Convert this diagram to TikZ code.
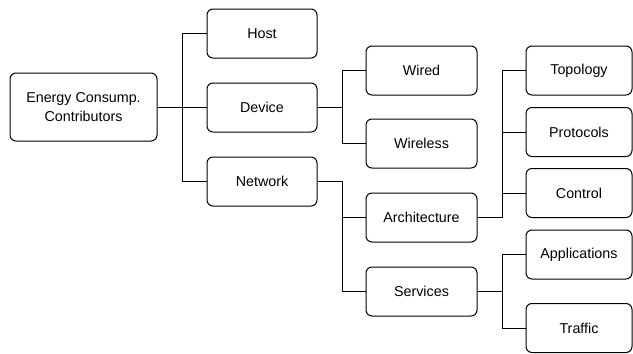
\documentclass[tikz,border=0pt]{standalone}
\usepackage{fontspec}
\setmainfont{Liberation Sans}
\usetikzlibrary{positioning}
\tikzset{box/.style={draw, line width=1pt, rounded corners=6pt, align=center, minimum width=110pt, minimum height=49pt, font=\fontsize{14.3}{18.5}\selectfont}}
\tikzset{link/.style={line width=1pt}}
\def\elbow{25}

\begin{document}
\begin{tikzpicture}[x=1pt,y=-1pt]
  \useasboundingbox (0,0) rectangle (633,354);

  \node[box, minimum width=147pt, minimum height=68pt] (root) at (83.5,107) {Energy Consump.\\Contributors};

  \node[box] (host) at (262,33.5) {Host};
  \node[box] (device) at (262,107.5) {Device};
  \node[box] (network) at (262,181.5) {Network};

  \node[box, minimum width=111pt] (wired) at (421.5,70.5) {Wired};
  \node[box, minimum width=111pt] (wireless) at (421.5,143.5) {Wireless};
  \node[box, minimum width=111pt] (arch) at (421.5,217.5) {Architecture};
  \node[box, minimum width=111pt] (services) at (421.5,291.5) {Services};

  \node[box, minimum width=106pt] (topology) at (579,70.5) {Topology};
  \node[box, minimum width=106pt] (protocols) at (579,132) {Protocols};
  \node[box, minimum width=106pt] (control) at (579,193) {Control};
  \node[box, minimum width=106pt] (apps) at (579,254.5) {Applications};
  \node[box, minimum width=106pt] (traffic) at (579,328) {Traffic};

  \foreach \dest in {host,device,network}
  \draw[link] (root.east) -- ++(\elbow,0) |- (\dest.west);

  \foreach \dest in {wired,wireless}
  \draw[link] (device.east) -- ++(\elbow,0) |- (\dest.west);

  \foreach \dest in {arch,services}
  \draw[link] (network.east) -- ++(\elbow,0) |- (\dest.west);

  \foreach \dest in {topology,protocols,control}
  \draw[link] (arch.east) -- ++(\elbow,0) |- (\dest.west);

  \foreach \dest in {apps,traffic}
  \draw[link] (services.east) -- ++(\elbow,0) |- (\dest.west);
\end{tikzpicture}
\end{document}
